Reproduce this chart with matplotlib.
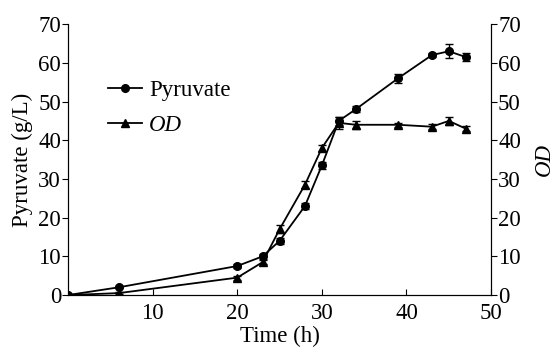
import matplotlib
matplotlib.use("Agg")
import matplotlib.pyplot as plt
from matplotlib.lines import Line2D

plt.rcParams['font.family'] = ['Liberation Serif', 'DejaVu Serif']
plt.rcParams['font.size'] = 16.5

# data
time_h = [0, 6, 20, 23, 25, 28, 30, 32, 34, 39, 43, 45, 47]
pyruvate = [0, 2, 7.5, 10, 14, 23, 33.5, 45, 48, 56, 62, 63, 61.5]
pyruvate_err = [0.3, 0.3, 0.5, 0.6, 0.7, 0.8, 0.8, 1.0, 0.8, 1.2, 0.5, 1.8, 1.0]
od = [0, 0.5, 4.5, 8.5, 17, 28.5, 38, 44.5, 44, 44, 43.5, 45, 43]
od_err = [0.2, 0.2, 0.5, 0.6, 1.0, 0.9, 0.9, 1.5, 1.0, 0.5, 0.6, 1.0, 0.6]

fig = plt.figure(figsize=(5.56, 3.5), dpi=100)
ax = fig.add_axes([0.1223, 0.157, 0.761, 0.774])

ax.errorbar(time_h, pyruvate, yerr=pyruvate_err, color='black', marker='o',
            markersize=5.5, lw=1.3, capsize=3, elinewidth=1)
ax.errorbar(time_h, od, yerr=od_err, color='black', marker='^',
            markersize=5.5, lw=1.3, capsize=3, elinewidth=1)

ax.set_xlim(0, 50)
ax.set_ylim(0, 70)
ax.set_xticks([10, 20, 30, 40, 50])
ax.set_yticks(range(0, 71, 10))
ax.set_xlabel('Time (h)', labelpad=1)
ax.set_ylabel('Pyruvate (g/L)', labelpad=4)
ax.tick_params(axis='x', direction='in', length=4, pad=6)
ax.tick_params(axis='y', direction='out', length=4, pad=1)
ax.spines['top'].set_visible(False)

ax2 = ax.twinx()
ax2.set_ylim(0, 70)
ax2.set_yticks(range(0, 71, 10))
ax2.set_ylabel('OD', style='italic', labelpad=9)
ax2.tick_params(axis='y', direction='out', length=4, pad=1)
ax2.spines['top'].set_visible(False)

handles = [Line2D([], [], color='black', marker='o', markersize=5.5, lw=1.3),
           Line2D([], [], color='black', marker='^', markersize=5.5, lw=1.3)]
leg = ax.legend(handles, ['Pyruvate', 'OD'], loc='upper left',
                bbox_to_anchor=(0.045, 0.87), frameon=False,
                handlelength=1.5, handletextpad=0.3, labelspacing=0.6)
leg.get_texts()[1].set_style('italic')

fig.savefig('out.png', dpi=100)
